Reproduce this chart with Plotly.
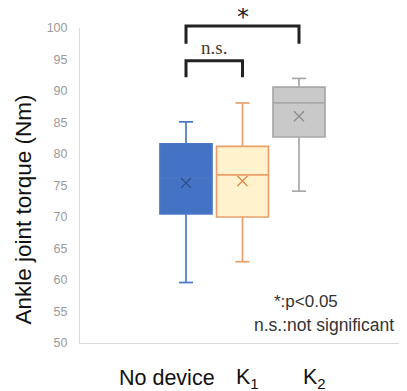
import plotly.graph_objects as go

# ---- data ----
categories = ["No device", "K<sub>1</sub>", "K<sub>2</sub>"]
positions = [1, 2, 3]
q1 = [70.5, 70.0, 82.7]
median = [76.2, 76.7, 88.1]
q3 = [81.6, 81.2, 90.6]
lower_whisker = [59.6, 62.9, 74.1]
upper_whisker = [85.1, 88.1, 92.0]
means = [75.4, 75.7, 86.0]
y_ticks = [50, 55, 60, 65, 70, 75, 80, 85, 90, 95, 100]

fill_colors = ["#4472C4", "#FFF2CC", "#C9C9C9"]
line_colors = ["#4A76C6", "#E9A06A", "#A8A8A8"]
mean_colors = ["#2F528F", "#E08A4A", "#8C8C8C"]

label_positions = [0.664, 2.097, 3.28]

# plot-area geometry (screen px) used for placing free text
PX_L, PX_W, PX_B, PX_H = 80, 322, 343, 315
def pxx(p):
    return (p - PX_L) / PX_W
def pxy(p):
    return (PX_B - p) / PX_H

fig = go.Figure()
box_w = 0.92
cap_w = 0.25
for i in range(3):
    x = positions[i]
    fig.add_trace(go.Box(
        x=[x], q1=[q1[i]], median=[median[i]], q3=[q3[i]],
        lowerfence=[lower_whisker[i]], upperfence=[upper_whisker[i]],
        width=box_w, fillcolor=fill_colors[i],
        line=dict(color=line_colors[i], width=1.7),
        whiskerwidth=0, boxpoints=False, showlegend=False, hoverinfo="skip"))
    # whisker caps
    for v in (lower_whisker[i], upper_whisker[i]):
        fig.add_trace(go.Scatter(
            x=[x - cap_w / 2, x + cap_w / 2], y=[v, v], mode="lines",
            line=dict(color=line_colors[i], width=1.7),
            showlegend=False, hoverinfo="skip"))
    # mean marker
    fig.add_trace(go.Scatter(
        x=[x], y=[means[i]], mode="markers",
        marker=dict(symbol="x-thin", size=10,
                    line=dict(color=mean_colors[i], width=1.4)),
        showlegend=False, hoverinfo="skip"))

def py(v):
    return (v - 50) / 50.0

# significance brackets
brackets = [
    (positions[0], positions[2], 100.3, 97.5),
    (positions[0], positions[1], 94.8, 92.2),
]
for x0, x1, top, leg in brackets:
    fig.add_shape(type="path", xref="x", yref="paper",
                  path=f"M {x0},{py(leg)} L {x0},{py(top)} L {x1},{py(top)} L {x1},{py(leg)}",
                  line=dict(color="#222222", width=3))

fig.add_annotation(x=(positions[0] + positions[2]) / 2, y=pxy(17), xref="x", yref="paper",
                   text="*", showarrow=False, yanchor="middle",
                   font=dict(family="DejaVu Sans", size=24, color="#222222"))
fig.add_annotation(x=(positions[0] + positions[1]) / 2, y=py(96.9), xref="x", yref="paper",
                   text="n.s.", showarrow=False, yanchor="middle",
                   font=dict(family="Liberation Serif", size=19, color="#4a3a2a"))

# legend note
fig.add_annotation(xref="paper", yref="paper", x=pxx(272), y=pxy(301),
                   xanchor="left", yanchor="middle", text="*:p<0.05", showarrow=False,
                   font=dict(family="Liberation Sans", size=17, color="#333333"))
fig.add_annotation(xref="paper", yref="paper", x=pxx(252), y=pxy(325),
                   xanchor="left", yanchor="middle", text="n.s.:not significant", showarrow=False,
                   font=dict(family="Liberation Sans", size=17.5, color="#333333"))

# y-axis title
fig.add_annotation(xref="paper", yref="paper", x=pxx(23.5), y=pxy(210),
                   text="Ankle joint torque (Nm)", textangle=-90, showarrow=False,
                   xanchor="center", yanchor="middle",
                   font=dict(family="Liberation Sans", size=22.5, color="#111111"))

# category labels
for lbl, lx in zip(categories, label_positions):
    fig.add_annotation(x=lx, y=pxy(378), xref="x", yref="paper",
                       text=lbl, showarrow=False, yanchor="middle",
                       font=dict(family="Liberation Sans", size=21.5, color="#111111"))

# page body has an 8px margin, so the figure is shrunk and margins offset by 8px
fig.update_layout(
    width=399, height=383,
    margin=dict(l=72, r=5, t=20, b=48, autoexpand=False),
    paper_bgcolor="white", plot_bgcolor="white",
    xaxis=dict(range=[-0.876, 4.823], showticklabels=False, showgrid=False, automargin=False,
               zeroline=False, showline=True, linecolor="#D9D9D9", linewidth=1, ticks=""),
    yaxis=dict(range=[50, 100], tickvals=y_ticks, showgrid=False, zeroline=False, automargin=False,
               showline=True, linecolor="#D9D9D9", linewidth=1, ticks="",
               ticklabelstandoff=9,
               tickfont=dict(family="Liberation Sans", size=12.5, color="#9A9A9A")),
)

fig.write_html("out.html")
